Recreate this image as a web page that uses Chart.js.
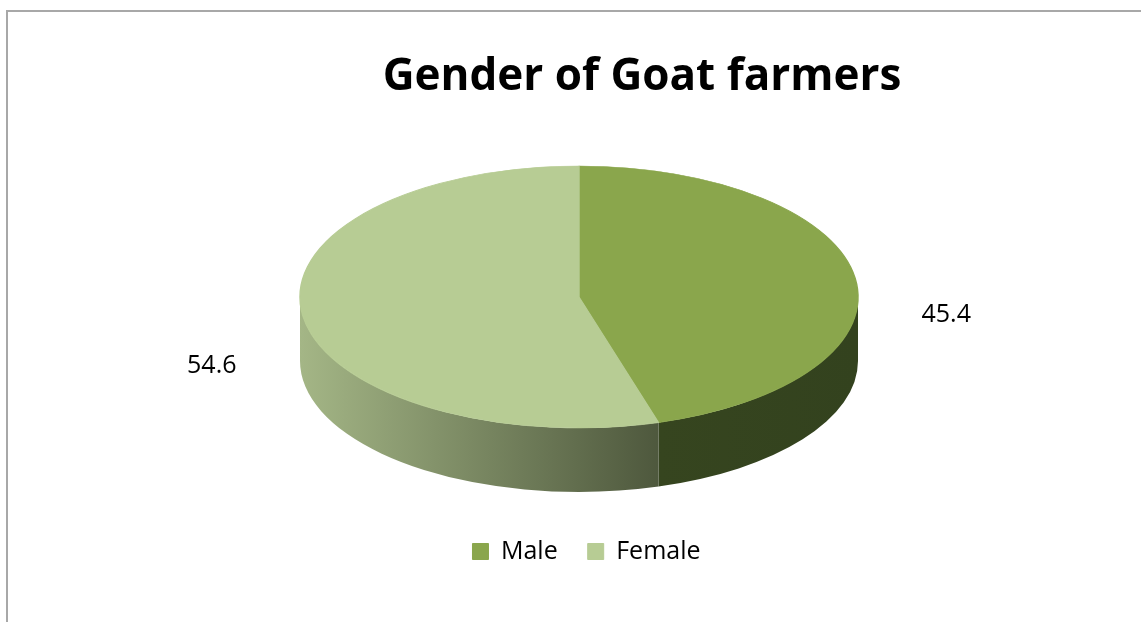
<!DOCTYPE html>
<html>
<head>
<meta charset="utf-8">
<title>Gender of Goat farmers</title>
<script src="https://cdn.jsdelivr.net/npm/chart.js@4.4.1/dist/chart.umd.min.js"></script>
<style>
  html,body{margin:0;padding:0;background:#fff;overflow:hidden}
  #wrap{position:relative;width:1141px;height:622px}
  #frame{position:absolute;left:6px;top:10px;right:-20px;bottom:-20px;border-top:2px solid #a8a8a8;border-left:2px solid #a8a8a8}
  #c{position:absolute;left:0;top:0}
</style>
</head>
<body>
<div id="wrap">
  <div id="frame"></div>
  <canvas id="c" width="1141" height="622"></canvas>
</div>
<script>
// ── data ──
const chartTitle = 'Gender of Goat farmers';
const labels = ['Male', 'Female'];
const shares = [45.4, 54.6];

// ── look ──
const topColors  = ['#8aa64c', '#b7cc94'];
const sideShades = [['#36451f', '#33421e'], ['#a4b686', '#4e583d']];
const FONT = '"Open Sans", "Noto Sans", sans-serif';

// ellipse the pie top is squashed into, plus the rim depth
const GEO = { cx: 579, cy: 297, rx: 279, ry: 131, depth: 64 };

// draws the rim under the pie, squashes the top faces, then adds value labels
const pie3d = {
  id: 'pie3d',
  beforeDatasetsDraw(chart){
    const arcs = chart.getDatasetMeta(0).data;
    if(!arcs.length) return;
    const ctx = chart.ctx;
    const {cx, cy, rx, ry, depth} = GEO;

    // rim: only the front half (0..PI) can be seen
    arcs.forEach((arc, i) => {
      const s = Math.max(arc.startAngle, 0);
      const e = Math.min(arc.endAngle, Math.PI);
      if(e <= s) return;
      const xa = cx + rx*Math.cos(e), xb = cx + rx*Math.cos(s);
      const g = ctx.createLinearGradient(Math.min(xa, xb), 0, Math.max(xa, xb), 0);
      g.addColorStop(0, sideShades[i][0]);
      g.addColorStop(1, sideShades[i][1]);
      ctx.beginPath();
      ctx.ellipse(cx, cy, rx, ry, 0, s, e, false);
      ctx.lineTo(cx + rx*Math.cos(e), cy + depth + ry*Math.sin(e));
      ctx.ellipse(cx, cy + depth, rx, ry, 0, e, s, true);
      ctx.closePath();
      ctx.fillStyle = g;
      ctx.fill();
    });

    // top faces: map the library's circle onto the ellipse
    const a0 = arcs[0];
    const R = a0.outerRadius;
    ctx.save();
    ctx.translate(cx, cy);
    ctx.scale(rx/R, ry/R);
    ctx.translate(-a0.x, -a0.y);
  },
  afterDatasetsDraw(chart){
    const ctx = chart.ctx;
    ctx.restore();
    const arcs = chart.getDatasetMeta(0).data;
    const {cx, cy, rx, ry} = GEO;
    ctx.save();
    ctx.font = '25px ' + FONT;
    ctx.fillStyle = '#000';
    ctx.textAlign = 'center';
    ctx.textBaseline = 'middle';
    arcs.forEach((arc, i) => {
      const mid = (arc.startAngle + arc.endAngle)/2;
      const x = cx + rx*Math.cos(mid)*1.33;
      const y = cy + ry*Math.sin(mid)*1.35 + 43;
      ctx.fillText(shares[i].toFixed(1), x, y);
    });
    ctx.restore();
  },
  afterDraw(chart){
    const ctx = chart.ctx;
    ctx.save();
    ctx.font = 'bold 44px ' + FONT;
    ctx.fillStyle = '#000';
    ctx.textAlign = 'center';
    ctx.textBaseline = 'alphabetic';
    ctx.fillText(chartTitle, 642, 90);
    ctx.restore();
  }
};

new Chart(document.getElementById('c'), {
  type: 'pie',
  data: {
    labels: labels,
    datasets: [{
      data: shares,
      backgroundColor: topColors,
      borderColor: topColors,
      borderWidth: 1,
      clip: false
    }]
  },
  options: {
    responsive: false,
    devicePixelRatio: 1,
    animation: false,
    events: [],
    layout: { padding: { left: 32, right: 0, top: 120, bottom: 48 } },
    plugins: {
      title: { display: false },
      tooltip: { enabled: false },
      legend: {
        position: 'bottom',
        labels: {
          boxWidth: 16,
          boxHeight: 16,
          padding: 30,
          color: '#000',
          font: { family: FONT, size: 25 }
        }
      }
    }
  },
  plugins: [pie3d]
});
</script>
</body>
</html>
